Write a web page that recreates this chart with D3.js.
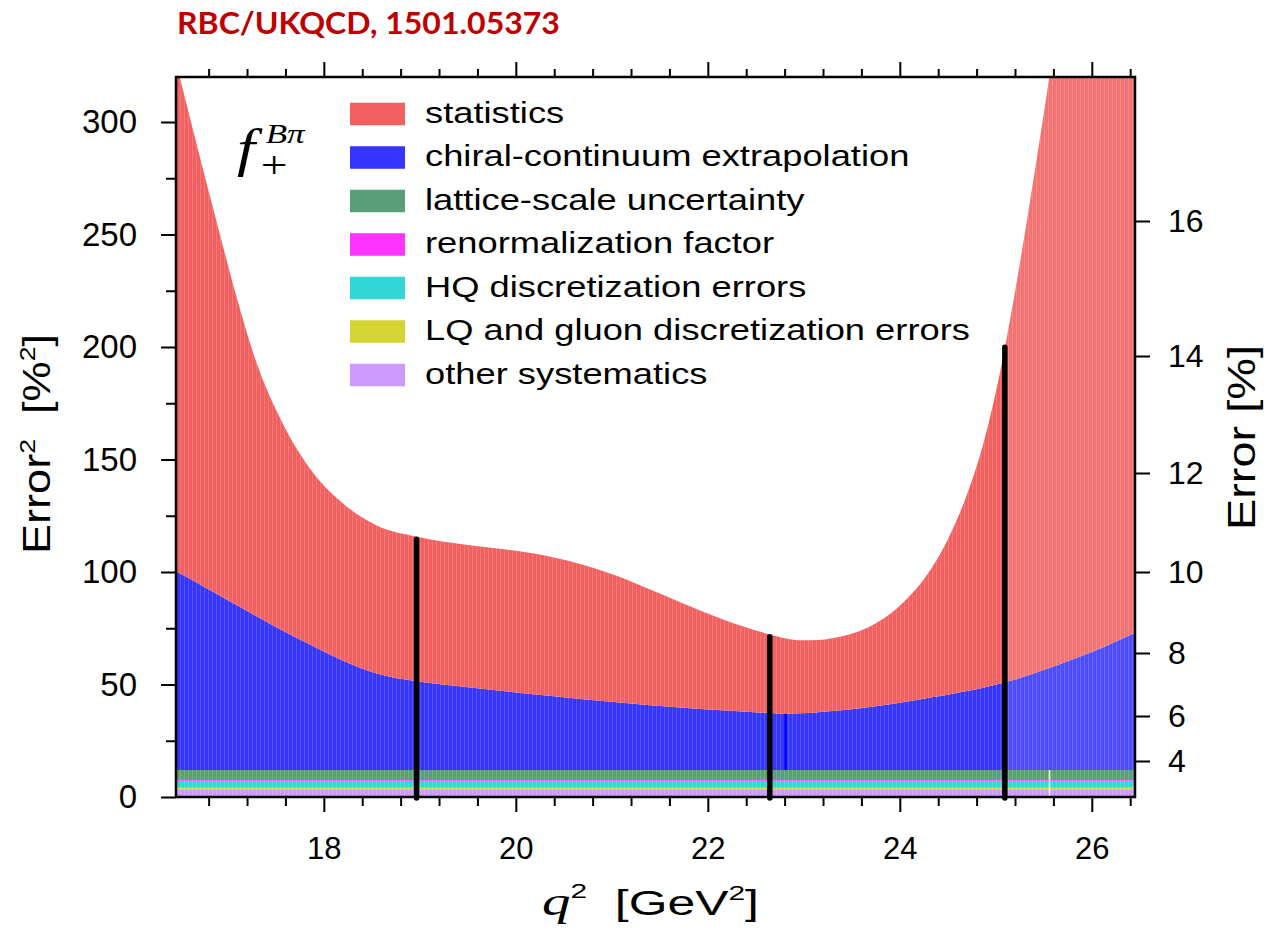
<!DOCTYPE html>
<html><head><meta charset="utf-8">
<script src="https://cdn.jsdelivr.net/npm/d3@7"></script>
<style>body{margin:0;background:#fff} svg{display:block} text{white-space:pre}</style>
</head><body><svg id="chart" width="1268" height="930"></svg>
<script>
// ---------- data ----------
const q2 = [16.46,16.5,16.6,16.75,16.9,17.1,17.3,17.55,17.85,18.2,18.55,18.97,19.5,20.0,20.35,20.7,21.05,21.4,21.75,22.1,22.45,22.65,22.8,22.95,23.15,23.3,23.65,24.0,24.35,24.5,24.7,24.87,25.05,25.2,25.4,25.55,25.7,26.0,26.45];
const statistics = [226.1,220.3,205.7,184.1,162.95,135.75,112.55,93.45,78.35,69.9,65.8,64.3,63.2,62.9,61.9,59.7,56.2,51.4,46.2,41.2,36.85,34.9,33.6,32.5,32.1,32.4,35.2,43.1,58.6,69.0,87.4,108.4,139.6,172.3,221.5,260.5,301.65,385.6,517.0];
const chiralContinuum = [88.55,87.55,85.15,81.55,77.95,73.15,68.35,62.45,55.95,48.65,42.95,39.45,36.85,34.55,33.05,31.55,30.15,28.85,27.75,26.75,25.85,25.35,25.05,25.25,25.75,26.25,27.85,29.95,32.45,33.55,35.15,36.65,38.45,40.25,43.05,45.3,47.65,52.45,61.05];
const latticeScale = [4.0,4.0,4.0,4.0,4.0,4.0,4.0,4.0,4.0,4.0,4.0,4.0,4.0,4.0,4.0,4.0,4.0,4.0,4.0,4.0,4.0,4.0,4.0,4.0,4.0,4.0,4.0,4.0,4.0,4.0,4.0,4.0,4.0,4.0,4.0,4.0,4.0,4.0,4.0];
const renormalization = [0.75,0.75,0.75,0.75,0.75,0.75,0.75,0.75,0.75,0.75,0.75,0.75,0.75,0.75,0.75,0.75,0.75,0.75,0.75,0.75,0.75,0.75,0.75,0.75,0.75,0.75,0.75,0.75,0.75,0.75,0.75,0.75,0.75,0.75,0.75,0.75,0.75,0.75,0.75];
const hqDiscretization = [3.1,3.1,3.1,3.1,3.1,3.1,3.1,3.1,3.1,3.1,3.1,3.1,3.1,3.1,3.1,3.1,3.1,3.1,3.1,3.1,3.1,3.1,3.1,3.1,3.1,3.1,3.1,3.1,3.1,3.1,3.1,3.1,3.1,3.1,3.1,3.1,3.1,3.1,3.1];
const lqDiscretization = [0.7,0.7,0.7,0.7,0.7,0.7,0.7,0.7,0.7,0.7,0.7,0.7,0.7,0.7,0.7,0.7,0.7,0.7,0.7,0.7,0.7,0.7,0.7,0.7,0.7,0.7,0.7,0.7,0.7,0.7,0.7,0.7,0.7,0.7,0.7,0.7,0.7,0.7,0.7];
const otherSystematics = [3.4,3.4,3.4,3.4,3.4,3.4,3.4,3.4,3.4,3.4,3.4,3.4,3.4,3.4,3.4,3.4,3.4,3.4,3.4,3.4,3.4,3.4,3.4,3.4,3.4,3.4,3.4,3.4,3.4,3.4,3.4,3.4,3.4,3.4,3.4,3.4,3.4,3.4,3.4];

const seriesKeys = ["other","lq","hq","renorm","lattice","chiral","stat"];
const seriesLabels = {stat:"statistics", chiral:"chiral-continuum extrapolation", lattice:"lattice-scale uncertainty", renorm:"renormalization factor", hq:"HQ discretization errors", lq:"LQ and gluon discretization errors", other:"other systematics"};
const legendOrder = ["stat","chiral","lattice","renorm","hq","lq","other"];
const colors = {stat:"#f26060", chiral:"#3535ff", lattice:"#59a078", renorm:"#ff33ff", hq:"#33d6d6", lq:"#d4d433", other:"#cc99ff"};

// data-point markers (black bars), and small accents
const markerQ2 = [18.966, 22.646, 25.094];
const markerTop = [115.7, 72.3, 201];
const xMajor = [18,20,22,24,26];
const xMinor = [16.8,17.2,17.6,18.4,18.8,19.2,19.6,20.4,20.8,21.2,21.6,22.4,22.8,23.2,23.6,24.4,24.8,25.2,25.6,26.4];
const yMajor = [0,50,100,150,200,250,300];
const yMinor = [25,75,125,175,225,275];
const yRightTicks = [4,6,8,10,12,14,16];

// ---------- layout ----------
const svg = d3.select("#chart");
const L = 176, R = 1135, T = 77, B = 797;
const x = d3.scaleLinear().domain([16.46, 26.45]).range([L, R]);
const y = d3.scaleLinear().domain([0, 320]).range([B, T]);
const yR = d3.scalePow().exponent(2).domain([0, Math.sqrt(320)]).range([B, T]);

const rows = q2.map((q,i)=>({q, stat:statistics[i], chiral:chiralContinuum[i], lattice:latticeScale[i], renorm:renormalization[i], hq:hqDiscretization[i], lq:lqDiscretization[i], other:otherSystematics[i]}));
const stack = d3.stack().keys(seriesKeys)(rows);

const defs = svg.append("defs");
defs.append("clipPath").attr("id","plotclip").append("rect").attr("x",L).attr("y",T).attr("width",R-L).attr("height",B-T);
const pat = defs.append("pattern").attr("id","stripes").attr("patternUnits","userSpaceOnUse").attr("width",4).attr("height",10);
pat.append("rect").attr("x",0).attr("y",0).attr("width",1).attr("height",10).attr("fill","#fff").attr("opacity",0.16);

const curve = d3.curveMonotoneX;
const area = d3.area().x(d=>x(d.data.q)).y0(d=>y(d[0])).y1(d=>y(d[1])).curve(curve);
const plot = svg.append("g").attr("clip-path","url(#plotclip)");
plot.selectAll("path.layer").data(stack).join("path").attr("class","layer")
  .attr("fill", d=>colors[d.key]).attr("d", area);

// stripe texture over the whole stack
const topLayer = stack[stack.length-1];
const totalArea = d3.area().x(d=>x(d.data.q)).y0(y(0)).y1(d=>y(d[1])).curve(curve);
plot.append("path").attr("d", totalArea(topLayer)).attr("fill","url(#stripes)");
// lighter region beyond last marker (upper layers)
const upperArea = d3.area().x(d=>x(d.data.q)).y0(d=>y(stack[5][0][0])).y1(d=>y(d[1])).curve(curve);
defs.append("clipPath").attr("id","rightclip").append("rect").attr("x",x(markerQ2[2])).attr("y",T).attr("width",R-x(markerQ2[2])).attr("height",B-T);
plot.append("g").attr("clip-path","url(#rightclip)").append("path").attr("d", upperArea(topLayer)).attr("fill","#fff").attr("opacity",0.12);

// accents
const chiralBase = stack[5];
const accentQ = 22.81, accentIdx = q2.indexOf(22.8);
plot.append("line").attr("x1",x(accentQ)).attr("x2",x(accentQ))
  .attr("y1",y(chiralBase[accentIdx][0])).attr("y2",y(chiralBase[accentIdx][1]))
  .attr("stroke","#0000ff").attr("stroke-width",2.5);
plot.append("line").attr("x1",x(25.56)).attr("x2",x(25.56))
  .attr("y1",y(0)).attr("y2",y(chiralBase[0][0]))
  .attr("stroke","#fff").attr("stroke-width",1.5);

// ---------- axes ----------
const tickFont = "'Liberation Sans', Arial, Helvetica, sans-serif";
function style(g, fs){
  g.select(".domain").remove();
  g.selectAll(".tick line").attr("stroke","#000").attr("stroke-width",2);
  g.selectAll(".tick text").attr("font-family",tickFont).attr("font-size",fs).attr("fill","#000");
}
svg.append("g").attr("transform",`translate(0,${B})`)
  .call(d3.axisBottom(x).tickValues(xMajor).tickSize(15).tickPadding(25).tickFormat(d3.format("d"))).call(g=>style(g,31));
svg.append("g").attr("transform",`translate(0,${B})`)
  .call(d3.axisBottom(x).tickValues(xMinor).tickSize(9).tickFormat("")).call(g=>style(g,30));
svg.append("g").attr("transform",`translate(0,${T})`)
  .call(d3.axisTop(x).tickValues(xMajor).tickSize(15).tickFormat("")).call(g=>style(g,30));
svg.append("g").attr("transform",`translate(0,${T})`)
  .call(d3.axisTop(x).tickValues(xMinor).tickSize(8).tickFormat("")).call(g=>style(g,30));
svg.append("g").attr("transform",`translate(${L},0)`)
  .call(d3.axisLeft(y).tickValues(yMajor).tickSize(15).tickPadding(24).tickFormat(d3.format("d"))).call(g=>style(g,33));
svg.append("g").attr("transform",`translate(${L},0)`)
  .call(d3.axisLeft(y).tickValues(yMinor).tickSize(10).tickFormat("")).call(g=>style(g,33));
svg.append("g").attr("transform",`translate(${R},0)`)
  .call(d3.axisRight(yR).tickValues(yRightTicks).tickSize(15).tickPadding(18).tickFormat(d3.format("d"))).call(g=>style(g,32));

// frame
svg.append("rect").attr("x",L).attr("y",T).attr("width",R-L).attr("height",B-T)
  .attr("fill","none").attr("stroke","#000").attr("stroke-width",2.5);

// black marker bars
svg.append("g").selectAll("line").data(markerQ2).join("line")
  .attr("x1",d=>x(d)).attr("x2",d=>x(d))
  .attr("y1",y(0)+1).attr("y2",(d,i)=>y(markerTop[i])+2.5)
  .attr("stroke","#000").attr("stroke-width",5.5).attr("stroke-linecap","round");

// ---------- texts ----------
function fitX(g, textSel, target){
  const w = textSel.node().getBBox().width;
  return target / w;
}
// title
const tg = svg.append("g");
const tt = tg.append("text").attr("x",0).attr("y",0).attr("font-family","Lato, 'Open Sans', sans-serif")
  .attr("font-weight",700).attr("font-size",30).attr("fill","#c00000").text("RBC/UKQCD, 1501.05373");
tg.attr("transform",`translate(177,33.5) scale(${fitX(tg,tt,383)},1)`);

// legend
const legFont = "'Liberation Sans', Arial, Helvetica, sans-serif";
const leg = svg.append("g");
const legTexts = [];
legendOrder.forEach((k,i)=>{
  const cy = 114 + i*43.5;
  leg.append("rect").attr("x",350).attr("y",cy-11.25).attr("width",55).attr("height",22.5).attr("fill",colors[k]);
  const g = leg.append("g");
  const t = g.append("text").attr("x",0).attr("y",0).attr("font-family",legFont).attr("font-size",29.5).attr("fill","#000").text(seriesLabels[k]);
  legTexts.push({g,t,cy});
});
const kLeg = 545 / legTexts[5].t.node().getBBox().width;
legTexts.forEach(o=>o.g.attr("transform",`translate(425,${o.cy+8.5}) scale(${kLeg},1)`));

// f_+^{B pi}
const serif = "'Liberation Serif', 'DejaVu Serif', serif";
const fg = svg.append("g").attr("transform","translate(237,166) scale(1.25,1)");
fg.append("text").attr("x",0).attr("y",0).attr("font-family",serif).attr("font-style","italic").attr("font-size",52).text("f");
fg.append("text").attr("x",23).attr("y",-23).attr("font-family",serif).attr("font-style","italic").attr("font-size",28).text("Bπ");
fg.append("text").attr("x",19).attr("y",12).attr("font-family",serif).attr("font-size",38).text("+");

// left axis title
const lg = svg.append("g");
const lt = lg.append("text").attr("font-family",legFont).attr("font-size",39).attr("fill","#000");
lt.append("tspan").text("Error");
lt.append("tspan").attr("font-size",23).attr("dy",-15).text("2");
lt.append("tspan").attr("dy",15).text("  [%");
lt.append("tspan").attr("font-size",23).attr("dy",-15).text("2");
lt.append("tspan").attr("dy",15).text("]");
lg.attr("transform",`translate(50,554) rotate(-90) scale(${fitX(lg,lt,220)},1)`);

// right axis title
const rg = svg.append("g");
const rt = rg.append("text").attr("font-family",legFont).attr("font-size",39).attr("fill","#000").text("Error [%]");
rg.attr("transform",`translate(1255,530) rotate(-90) scale(${fitX(rg,rt,185)},1)`);

// x axis title
const xg = svg.append("g");
const xt = xg.append("text").attr("font-family",legFont).attr("font-size",35).attr("fill","#000");
xt.append("tspan").attr("font-family",serif).attr("font-style","italic").attr("font-size",40).text("q");
xt.append("tspan").attr("font-size",21).attr("dy",-17).text("2");
xt.append("tspan").attr("dy",17).text("  [GeV");
xt.append("tspan").attr("font-size",21).attr("dy",-15).text("2");
xt.append("tspan").attr("dy",15).text("]");
xg.attr("transform",`translate(542,915) scale(${fitX(xg,xt,217)},1)`);
</script>
</body></html>
